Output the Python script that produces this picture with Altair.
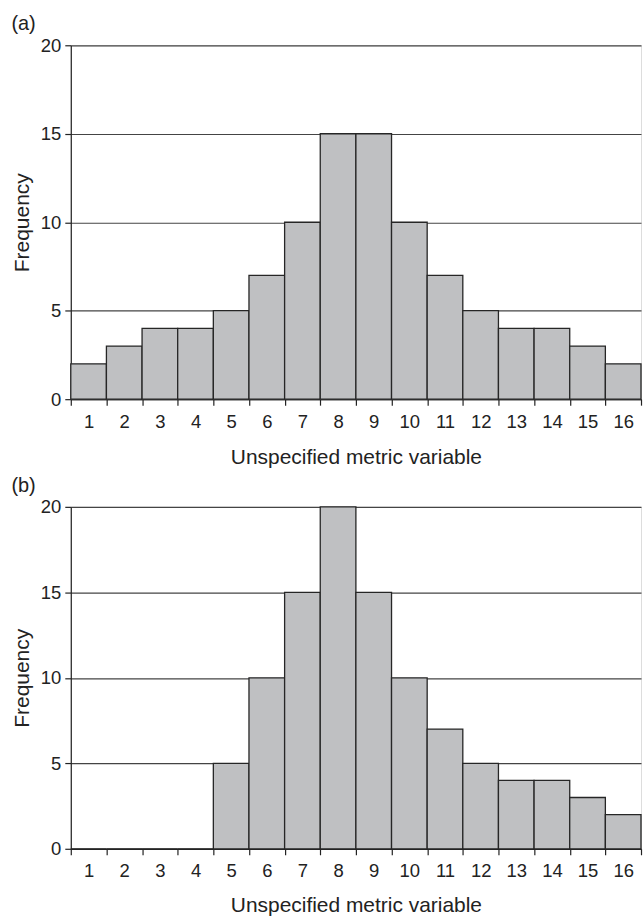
import altair as alt
import pandas as pd

bins = list(range(1, 17))
freq_a = [2, 3, 4, 4, 5, 7, 10, 15, 15, 10, 7, 5, 4, 4, 3, 2]
freq_b = [0, 0, 0, 0, 5, 10, 15, 20, 15, 10, 7, 5, 4, 4, 3, 2]
y_ticks = [0, 5, 10, 15, 20]
x_title = "Unspecified metric variable"
y_title = "Frequency"
panel_labels = ["(a)", "(b)"]

FONT = "Liberation Sans"
INK = "#222222"


def panel(freq, label, h, title_pad):
    df = pd.DataFrame({"bin": bins, "freq": freq})
    return (
        alt.Chart(
            df,
            title=alt.TitleParams(
                label, anchor="start", frame="bounds", fontSize=20,
                fontWeight="normal", font=FONT, color=INK, offset=2,
            ),
        )
        .mark_bar(fill="#bfc0c2", stroke="#262626", strokeWidth=1.3)
        .encode(
            x=alt.X(
                "bin:O", title=x_title,
                scale=alt.Scale(paddingInner=0, paddingOuter=0),
                axis=alt.Axis(
                    tickBand="extent", labelAngle=0, labelFontSize=18.5,
                    titleFontSize=21, labelFont=FONT, titleFont=FONT,
                    labelColor=INK, titleColor=INK, titleFontWeight="normal",
                    tickSize=6, tickColor="#222", domainColor="#222",
                    tickWidth=1.2, domainWidth=1.2,
                    labelPadding=7, titlePadding=title_pad, grid=False,
                ),
            ),
            y=alt.Y(
                "freq:Q", title=y_title,
                scale=alt.Scale(domain=[0, 20], nice=False),
                axis=alt.Axis(
                    values=y_ticks, grid=True, gridColor="#444", gridWidth=1.2,
                    gridOpacity=1, labelFontSize=18.5, titleFontSize=21,
                    labelFont=FONT, titleFont=FONT, labelColor=INK,
                    titleColor=INK, titleFontWeight="normal", tickSize=6,
                    tickColor="#222", domainColor="#222", tickWidth=1.2,
                    domainWidth=1.2, labelPadding=4, titlePadding=8,
                ),
            ),
        )
        .properties(width=572, height=h)
    )


chart = (
    alt.vconcat(
        panel(freq_a, panel_labels[0], 355, 16),
        panel(freq_b, panel_labels[1], 343, 14),
        spacing=7,
    )
    .properties(padding={"left": 10, "top": 12, "right": 0, "bottom": 0})
    .configure_view(stroke=None)
    .configure(font=FONT)
)

chart.save("out.html", embed_options={"renderer": "svg", "actions": False})
